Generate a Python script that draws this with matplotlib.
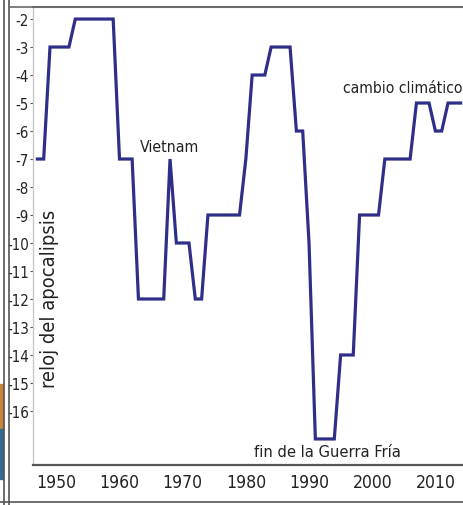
import matplotlib
matplotlib.use("Agg")
import matplotlib.pyplot as plt
from matplotlib import font_manager
from matplotlib.font_manager import FontProperties
from matplotlib.lines import Line2D
from matplotlib.patches import Rectangle

# ---- data ----
years = list(range(1947, 2015))
minutes = [-7, -7, -3, -3, -3, -3, -2, -2, -2, -2, -2, -2, -2,
           -7, -7, -7, -12, -12, -12, -12, -12, -7, -10, -10, -10,
           -12, -12, -9, -9, -9, -9, -9, -9, -7, -4, -4, -4, -3,
           -3, -3, -3, -6, -6, -10, -17, -17, -17, -17, -14, -14,
           -14, -9, -9, -9, -9, -7, -7, -7, -7, -7, -5, -5, -5,
           -6, -6, -5, -5, -5]
ytick_vals = list(range(-2, -17, -1))
xtick_vals = [1950, 1960, 1970, 1980, 1990, 2000, 2010]
ylabel_text = "reloj del apocalipsis"
annotations = [("Vietnam", 1963.2, -6.54),
               ("cambio climático", 1995.4, -4.43),
               ("fin de la Guerra Fría", 1981.3, -17.46)]


# ---- pick a condensed sans font if one is installed ----
def pick_font():
    prefs = ["Liberation Sans Narrow", "Arial Narrow", "DejaVu Sans Condensed",
             "Roboto Condensed", "Open Sans Condensed", "Noto Sans Condensed"]
    cands = []
    for f in font_manager.fontManager.ttflist:
        if f.style != "normal":
            continue
        if f.weight not in (400, "normal", "regular", "book"):
            continue
        nm = f.name
        cond = ("Narrow" in nm or "Condensed" in nm or
                "condensed" in str(f.stretch) or "Condensed" in f.fname or
                "Narrow" in f.fname)
        if not cond:
            continue
        fn = f.fname.lower()
        if "bold" in fn or "italic" in fn or "oblique" in fn or "light" in fn:
            continue
        cands.append(f)
    for p in prefs:
        for f in cands:
            if f.name == p or p.replace(" ", "") in f.fname.replace(" ", ""):
                return FontProperties(fname=f.fname)
    if cands:
        return FontProperties(fname=cands[0].fname)
    return FontProperties(family=["Liberation Sans", "DejaVu Sans"])


FP = pick_font()

W, H = 464, 506
fig = plt.figure(figsize=(W / 100, H / 100), dpi=100)
fig.patch.set_facecolor("white")
renderer = fig.canvas.get_renderer()


def fit_size(text, target_px, base=12.0, maxsize=20.0):
    t = fig.text(0, 0, text, fontproperties=FP, fontsize=base)
    w = t.get_window_extent(renderer).width
    t.remove()
    return min(maxsize, base * target_px / w)


# axes placement in pixels
L, R, T, B = 33, 464, 8, 466
ax = fig.add_axes([L / W, 1 - B / H, (R - L) / W, (B - T) / H])
ax.plot(years, minutes, color="#2f2f8a", lw=2.3, solid_joinstyle="miter")
ax.set_xlim(1946.31, 2014.53)
ax.set_ylim(-17.93, -1.57)

ysz = fit_size("-10", 22, maxsize=12.5)
xsz = fit_size("2010", 40, maxsize=15)
ax.set_yticks(ytick_vals)
ax.set_yticklabels([str(v) for v in ytick_vals], fontproperties=FP,
                   fontsize=ysz, color="#222222")
ax.set_xticks(xtick_vals)
ax.set_xticklabels([str(v) for v in xtick_vals], fontproperties=FP,
                   fontsize=xsz, color="#222222")
ax.tick_params(axis="y", length=2, width=0.8, pad=1, color="#555555")
ax.tick_params(axis="x", length=0, pad=6)

ax.spines["right"].set_visible(False)
ax.spines["top"].set_color("#6a6a6a")
ax.spines["top"].set_linewidth(1.5)
ax.spines["bottom"].set_color("#555555")
ax.spines["bottom"].set_linewidth(1.6)
ax.spines["left"].set_color("#c8c8c8")
ax.spines["left"].set_linewidth(1.0)

ax.text(1949.0, -11.96, ylabel_text, rotation=90, ha="center", va="center",
        fontproperties=FP, fontsize=fit_size(ylabel_text, 178, maxsize=16),
        color="#222222")
targets = {"Vietnam": 59, "cambio climático": 119, "fin de la Guerra Fría": 146}
for txt, x, y in annotations:
    ax.text(x, y, txt, ha="left", va="center", fontproperties=FP,
            fontsize=fit_size(txt, targets[txt], maxsize=15),
            color="#222222", clip_on=False)


# outer screenshot frame
def fline(x0, y0, x1, y1, c="#555555", lw=1.2):
    fig.add_artist(Line2D([x0 / W, x1 / W], [1 - y0 / H, 1 - y1 / H],
                          color=c, lw=lw, transform=fig.transFigure))


fline(4, 0, 4, H, "#555555", 1.2)
fline(9, 0, 9, H, "#555555", 1.2)
fline(9, 8, W, 8, "#6a6a6a", 1.2)
fline(0, 503, W, 503, "#555555", 1.2)
fig.add_artist(Rectangle((0, 1 - 430 / H), 2.5 / W, 45 / H, color="#c9833a",
                         transform=fig.transFigure))
fig.add_artist(Rectangle((0, 1 - 480 / H), 2.5 / W, 50 / H, color="#2f6a96",
                         transform=fig.transFigure))

fig.savefig("out.png", dpi=100)
